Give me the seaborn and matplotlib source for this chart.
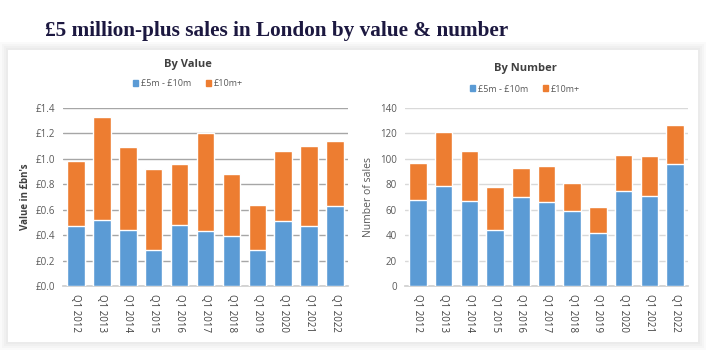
import numpy as np
import pandas as pd
import matplotlib.pyplot as plt
import seaborn as sns
from matplotlib.patches import FancyBboxPatch

# Data
quarters = ['Q1 2012', 'Q1 2013', 'Q1 2014', 'Q1 2015', 'Q1 2016', 'Q1 2017',
            'Q1 2018', 'Q1 2019', 'Q1 2020', 'Q1 2021', 'Q1 2022']
value_5_10 = [0.47, 0.52, 0.44, 0.28, 0.48, 0.43, 0.39, 0.28, 0.51, 0.47, 0.63]
value_10_plus = [0.51, 0.81, 0.65, 0.64, 0.48, 0.77, 0.49, 0.36, 0.55, 0.63, 0.51]
number_5_10 = [68, 79, 67, 44, 70, 66, 59, 42, 75, 71, 96]
number_10_plus = [29, 42, 39, 34, 23, 28, 22, 20, 28, 31, 31]
series_names = ['£5m - £10m', '£10m+']

blue = '#5b9bd5'
orange = '#ed7d31'

sns.set_theme(style='white')
plt.rcParams['font.family'] = ['Open Sans', 'DejaVu Sans']

fig = plt.figure(figsize=(7.08, 3.56), dpi=100)
fig.patch.set_facecolor('white')

# Card with soft shadow
W, H = 708, 356
for i, c in enumerate(['#fafafa', '#f5f5f5', '#f0f0f0', '#ebebeb']):
    pad = (4 - i) * 2
    fig.patches.append(FancyBboxPatch(((8 - pad) / W, (356 - 342 - pad) / H),
                                      (690 + 2 * pad) / W, (292 + 2 * pad) / H,
                                      boxstyle='square,pad=0', transform=fig.transFigure,
                                      facecolor=c, edgecolor='none', zorder=-10))
fig.patches.append(FancyBboxPatch((8 / W, 14 / H), 690 / W, 292 / H,
                                  boxstyle='square,pad=0', transform=fig.transFigure,
                                  facecolor='white', edgecolor='none', zorder=-9))

fig.text(45 / W, 1 - 31 / H, '£5 million-plus sales in London by value & number',
         fontsize=15.3, fontweight='bold', color='#1c1840', va='center',
         family=['Liberation Serif', 'DejaVu Serif'])

ax1 = fig.add_axes([63 / W, 1 - 286 / H, 285 / W, 178 / H])
ax2 = fig.add_axes([405 / W, 1 - 286 / H, 283 / W, 178 / H])


def stacked(ax, lower, upper, grid_color):
    df = pd.DataFrame({'quarter': quarters, 'low': lower, 'high': upper})
    df['total'] = df['low'] + df['high']
    sns.barplot(data=df, x='quarter', y='total', color=orange, width=0.68,
                saturation=1, ax=ax, zorder=3)
    sns.barplot(data=df, x='quarter', y='low', color=blue, width=0.68,
                saturation=1, ax=ax, zorder=4)
    ax.set_facecolor('none')
    ax.yaxis.grid(True, color=grid_color, linewidth=1, zorder=0)
    ax.set_axisbelow(True)
    for s in ['top', 'right', 'left']:
        ax.spines[s].set_visible(False)
    ax.spines['bottom'].set_color('#d0d0d0')
    ax.tick_params(axis='x', labelrotation=270, labelsize=7, colors='#404040', length=0, pad=6)
    ax.tick_params(axis='y', labelsize=7, colors='#595959', length=0, pad=6)
    ax.set_xlabel('')
    ax.set_xlim(-0.5, len(quarters) - 0.5)


stacked(ax1, value_5_10, value_10_plus, '#a6a6a6')
ax1.set_ylim(0, 1.4)
ax1.set_yticks(np.arange(0, 1.41, 0.2))
ax1.set_yticklabels(['£{:.1f}'.format(v) for v in np.arange(0, 1.41, 0.2)])
ax1.set_ylabel("Value in £bn's", fontsize=7, fontweight='bold', color='#404040', labelpad=3)

stacked(ax2, number_5_10, number_10_plus, '#d9d9d9')
ax2.set_ylim(0, 140)
ax2.set_yticks(range(0, 141, 20))
ax2.set_ylabel('Number of sales', fontsize=7.5, color='#595959', labelpad=4)

# Titles and legends
for ax, title, cx, ty, ly in [(ax1, 'By Value', 188, 65, 84), (ax2, 'By Number', 525, 68, 89)]:
    fig.text(cx / W, 1 - ty / H, title, fontsize=8, fontweight='bold', color='#404040',
             ha='center', va='center')
    handles = [plt.Rectangle((0, 0), 1, 1, color=blue), plt.Rectangle((0, 0), 1, 1, color=orange)]
    fig.legend(handles, series_names, loc='center', bbox_to_anchor=(cx / W, 1 - ly / H),
               ncol=2, frameon=False, fontsize=6.5, handlelength=0.6, handleheight=0.6,
               handletextpad=0.3, columnspacing=1.6, labelcolor='#595959')

fig.savefig('out.png', dpi=100)
